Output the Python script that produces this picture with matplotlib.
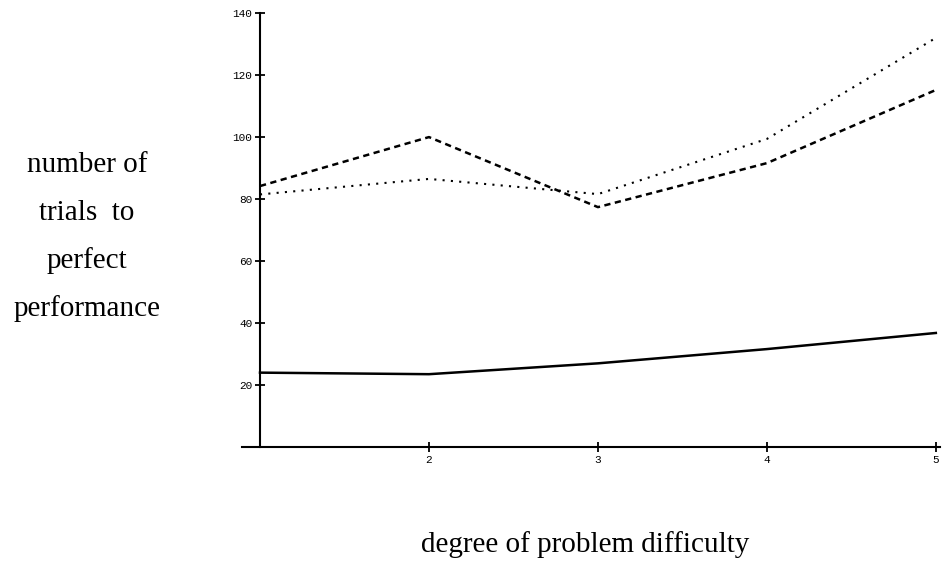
import matplotlib
matplotlib.use('Agg')
import matplotlib.pyplot as plt

# --- du lieu ---
do_kho = [1, 2, 3, 4, 5]
duong_lien = [24, 23.5, 27, 31.6, 36.8]
duong_gach = [84.2, 100, 77.4, 91.6, 115.2]
duong_cham = [81.5, 86.5, 81.6, 99.4, 132]
x_ticks = [2, 3, 4, 5]
y_ticks = [20, 40, 60, 80, 100, 120, 140]
nhan_y = ['number of', 'trials  to', 'perfect', 'performance']

fig = plt.figure(figsize=(9.45, 5.65), dpi=100)
ax = fig.add_axes([0.256, 0.2088, 0.7386, 0.768])

ax.plot(do_kho, duong_lien, color='black', linewidth=1.8)
ax.plot(do_kho, duong_gach, color='black', linewidth=1.8, linestyle=(0, (2.5, 1.8)))
ax.plot(do_kho, duong_cham, color='black', linewidth=1.5, linestyle=(0, (1, 3.0)))

ax.set_xlim(0.893, 5.024)
ax.set_ylim(0, 140)

for s in ['top', 'right']:
    ax.spines[s].set_visible(False)
ax.spines['left'].set_position(('data', 1))
ax.spines['left'].set_bounds(0, 140)
ax.spines['left'].set_linewidth(1.5)
ax.spines['bottom'].set_linewidth(1.5)

ax.set_xticks(x_ticks)
ax.set_yticks(y_ticks)
ax.tick_params(direction='inout', length=7, width=1.3, labelsize=8, pad=2)
for lb in ax.get_xticklabels() + ax.get_yticklabels():
    lb.set_family('Liberation Mono')

# nhan truc y: bon dong, can giua
for i, dong in enumerate(nhan_y):
    fig.text(0.092, 1 - (172 + 48 * i) / 565, dong, ha='center', va='baseline',
             fontsize=21, family='Liberation Serif')
fig.text(0.619, 0.023, 'degree of problem difficulty', ha='center', va='baseline',
         fontsize=21, family='Liberation Serif')

fig.savefig('out.png', dpi=100)
